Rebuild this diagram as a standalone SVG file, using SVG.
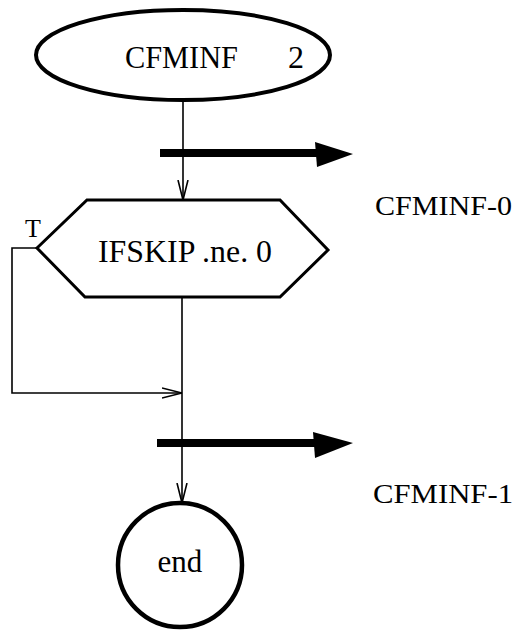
<svg xmlns="http://www.w3.org/2000/svg" width="524" height="630" viewBox="0 0 524 630">
<style>
text{font-family:"Liberation Serif","Times New Roman",serif;fill:#000}
.thin{stroke:#000;stroke-width:1.6;fill:none}
.node{stroke:#000;fill:#fff}
.thick{fill:#000;stroke:none}
</style>
<defs>
<marker id="v" viewBox="0 0 20 12" refX="20" refY="6" markerWidth="20" markerHeight="12" markerUnits="userSpaceOnUse" orient="auto">
<path d="M0,1 L20,6 L0,11" fill="none" stroke="#000" stroke-width="1.6"/>
</marker>
</defs>
<g id="connectors">
<line class="thin" x1="183" y1="100" x2="183" y2="200" marker-end="url(#v)"/>
<line class="thin" x1="182" y1="297" x2="182" y2="503" marker-end="url(#v)"/>
<polyline class="thin" points="37,248 12,248 12,393 182,393" marker-end="url(#v)"/>
</g>
<g id="flow-arrow-0">
<rect class="thick" x="160" y="149" width="157" height="8"/>
<polygon class="thick" points="315,142 353,154 317,167"/>
</g>
<g id="flow-arrow-1">
<rect class="thick" x="157" y="439" width="158" height="8"/>
<polygon class="thick" points="313,432 353,443 315,458"/>
</g>
<g id="start">
<ellipse class="node" cx="183" cy="55" rx="147" ry="45" stroke-width="4"/>
<text x="125" y="68" font-size="32" textLength="113" lengthAdjust="spacingAndGlyphs">CFMINF</text>
<text x="288" y="68" font-size="32">2</text>
</g>
<g id="decision">
<polygon class="node" points="37,248 87,200 280,200 328,250 280,297 85,297" stroke-width="3"/>
<text x="98" y="262" font-size="31" textLength="174" lengthAdjust="spacingAndGlyphs">IFSKIP .ne. 0</text>
<text x="25" y="237" font-size="26">T</text>
</g>
<g id="end">
<circle class="node" cx="180" cy="565" r="62" stroke-width="4.5"/>
<text x="180" y="572" font-size="31" text-anchor="middle">end</text>
</g>
<g id="labels">
<text x="375" y="215" font-size="27" textLength="137" lengthAdjust="spacingAndGlyphs">CFMINF-0</text>
<text x="373" y="503" font-size="27" textLength="140" lengthAdjust="spacingAndGlyphs">CFMINF-1</text>
</g>
</svg>
